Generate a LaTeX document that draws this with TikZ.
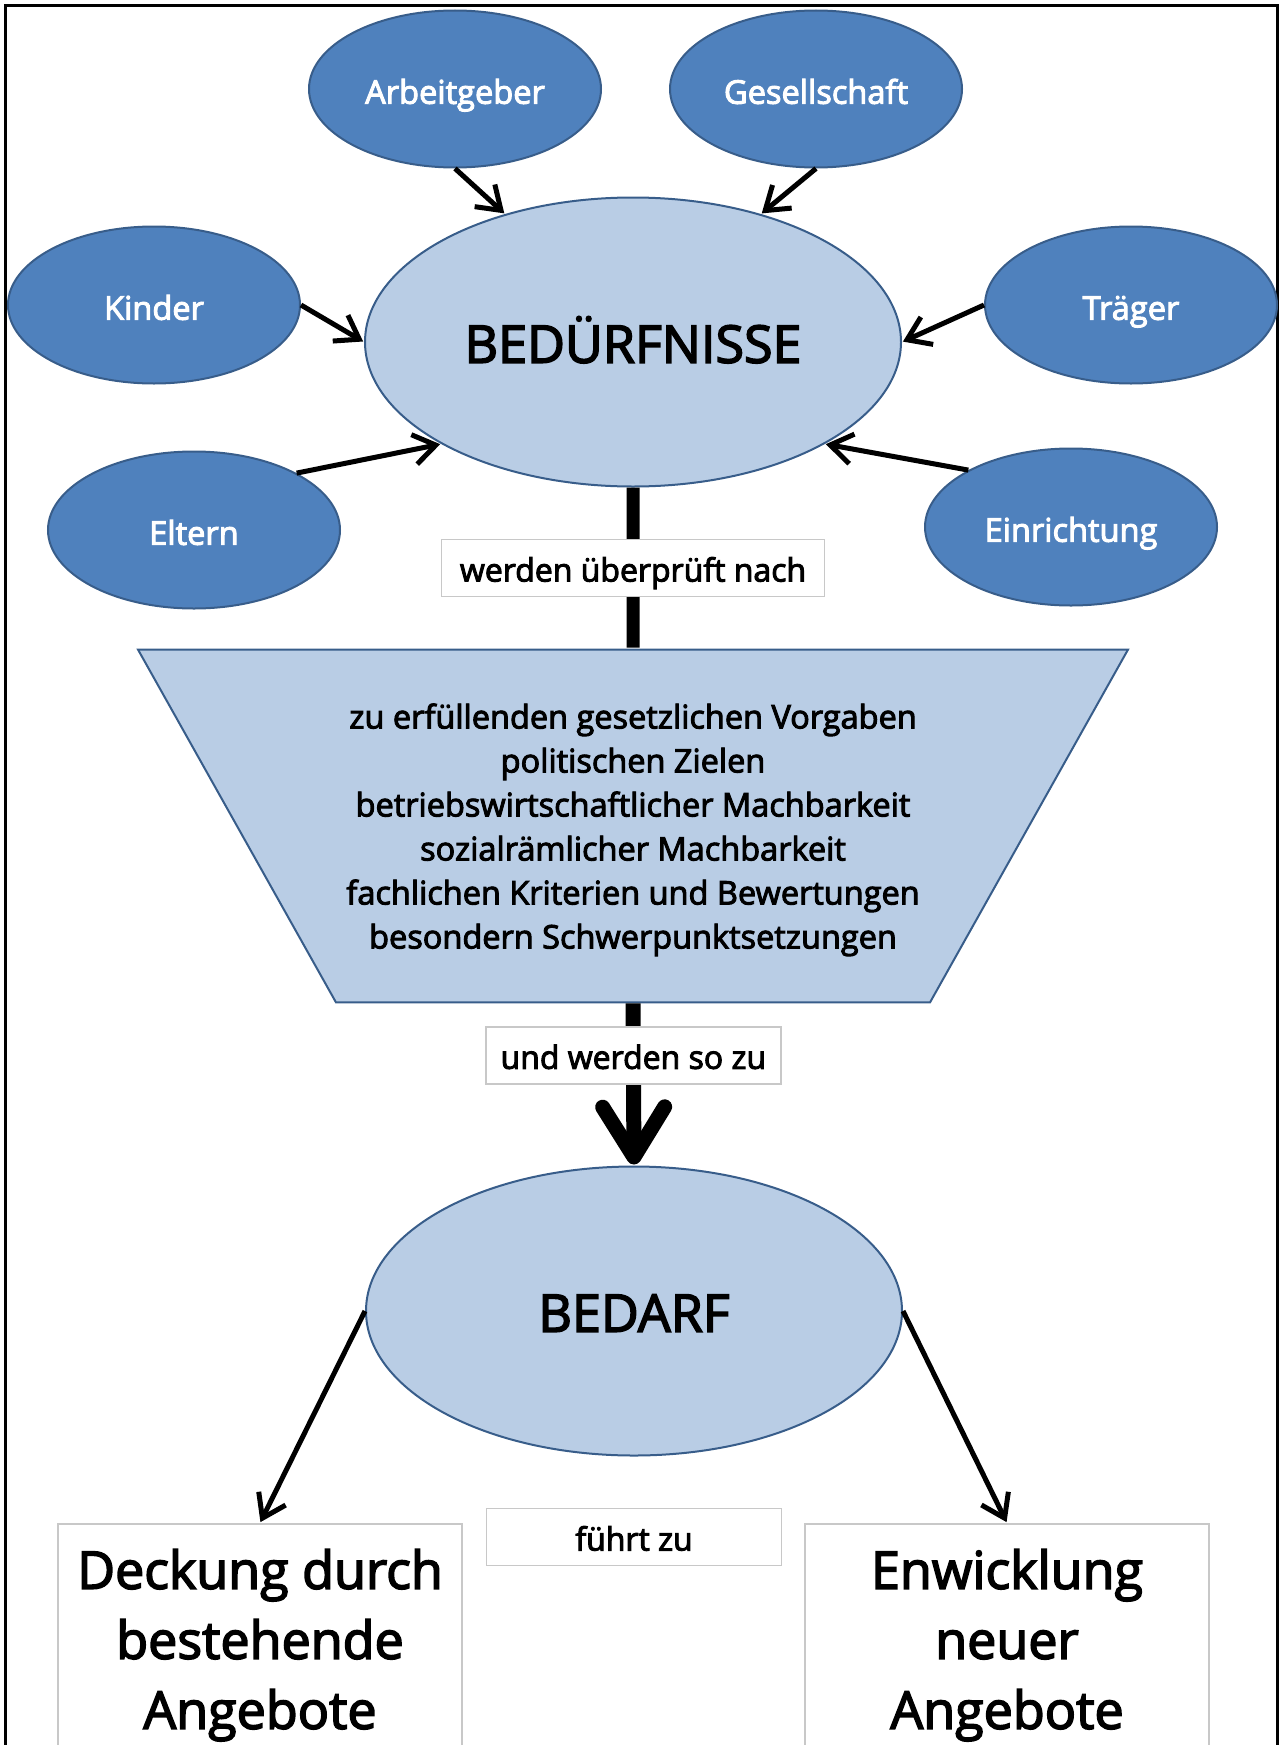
\documentclass[tikz,border=0pt]{standalone}
\usepackage{fontspec}
\setmainfont{Open Sans}[FakeBold=3]
\usetikzlibrary{arrows.meta,shapes.geometric}

\definecolor{darkBlue}{HTML}{4F81BD}
\definecolor{lineBlue}{HTML}{385D8A}
\definecolor{lightBlue}{HTML}{B9CDE5}
\definecolor{boxGray}{HTML}{C8C8C8}

\begin{document}
\begin{tikzpicture}[x=1pt, y=-1pt, ->, >={Straight Barb[length=22pt,width=30pt]}, shorten >= 1pt, line width=5pt]
        \tikzset{
           sourceNode/.style={
                        ellipse,
                        draw=lineBlue,
                        line width=2pt,
                        fill=darkBlue,
                        text=white,
                        minimum width=292pt,
                        minimum height=157pt,
                        inner sep=0pt,
                        text height=29.5pt,
                        text depth=0pt,
                        font=\fontsize{32.6}{38}\selectfont
                       },
           coreNode/.style={
                        ellipse,
                        draw=lineBlue,
                        line width=2pt,
                        fill=lightBlue,
                        text=black,
                        minimum width=536pt,
                        minimum height=289pt,
                        inner sep=0pt,
                        text height=41.5pt,
                        text depth=0pt,
                        font=\fontsize{52}{62}\selectfont
                       },
           tagBox/.style={
                        rectangle,
                        draw=boxGray,
                        line width=1.5pt,
                        fill=white,
                        text=black,
                        minimum width=295pt,
                        minimum height=57pt,
                        inner sep=0pt,
                        text height=27pt,
                        text depth=0pt,
                        font=\fontsize{32}{38}\selectfont
                       },
           filterBox/.style={
                        trapezium,
                        shape border rotate=180,
                        trapezium angle=60.7,
                        trapezium stretches body=true,
                        draw=lineBlue,
                        line width=2pt,
                        fill=lightBlue,
                        text=black,
                        minimum width=990pt,
                        minimum height=352pt,
                        inner xsep=0pt,
                        inner ysep=54pt,
                        text depth=-6pt,
                        align=center,
                        font=\fontsize{32.5}{44}\selectfont
                       },
           resultBox/.style={
                        rectangle,
                        anchor=north,
                        draw=boxGray,
                        line width=1.5pt,
                        fill=white,
                        text=black,
                        minimum width=404pt,
                        inner xsep=0pt,
                        inner ysep=25.5pt,
                        align=center,
                        font=\fontsize{52}{70}\selectfont
                       },
                 };
        \path[-, clip, use as bounding box] (0,0) rectangle (1279,1745);
        \draw[-, line width=3pt] (5,6) rectangle (1277,1800);
        %----------------
        \node[sourceNode] (arbeitgeber) at (455,89) {Arbeitgeber};
        \node[sourceNode] (gesellschaft) at (816,89) {Gesellschaft};
        \node[sourceNode] (kinder) at (154,305) {Kinder};
        \node[sourceNode] (traeger) at (1131,305) {Träger};
        \node[sourceNode] (eltern) at (194,530) {Eltern};
        \node[sourceNode] (einrichtung) at (1071,527) {Einrichtung};
        \node[coreNode] (needs) at (633,342) {BEDÜRFNISSE};
        \node[filterBox] (filter) at (633,826) {zu erfüllenden gesetzlichen Vorgaben\\
            politischen Zielen\\
            betriebswirtschaftlicher Machbarkeit\\
            sozialrämlicher Machbarkeit\\
            fachlichen Kriterien und Bewertungen\\
            besondern Schwerpunktsetzungen};
        \node[coreNode] (demand) at (634,1311) {BEDARF};
        \node[resultBox] (existingOffers) at (260,1523) {Deckung durch\\bestehende\\Angebote};
        \node[resultBox] (newOffers) at (1007,1523) {Enwicklung\\neuer\\Angebote};
        \node[tagBox] (leadsTo) at (634,1537) {führt zu};
        %----------------
        \draw[-, line width=13pt] (needs.south) -- node[tagBox, minimum width=383pt] (checkedBy) {werden überprüft nach} (filter.north);
        \draw[line width=15pt, -{Straight Barb[length=50pt,width=62pt,round]}] (filter.south) -- node[tagBox, pos=0.32] (becomes) {und werden so zu} (demand.north);
        \path (arbeitgeber.south) edge (needs.135)
              (gesellschaft.south) edge (needs.45)
              (kinder.east) edge (needs.west)
              (traeger.west) edge (needs.east)
              (eltern.29) edge (needs.208)
              (einrichtung.151) edge (needs.332)
              (demand.west) edge (existingOffers.north)
              (demand.east) edge (newOffers.north)
        ;
    \end{tikzpicture}
\end{document}
